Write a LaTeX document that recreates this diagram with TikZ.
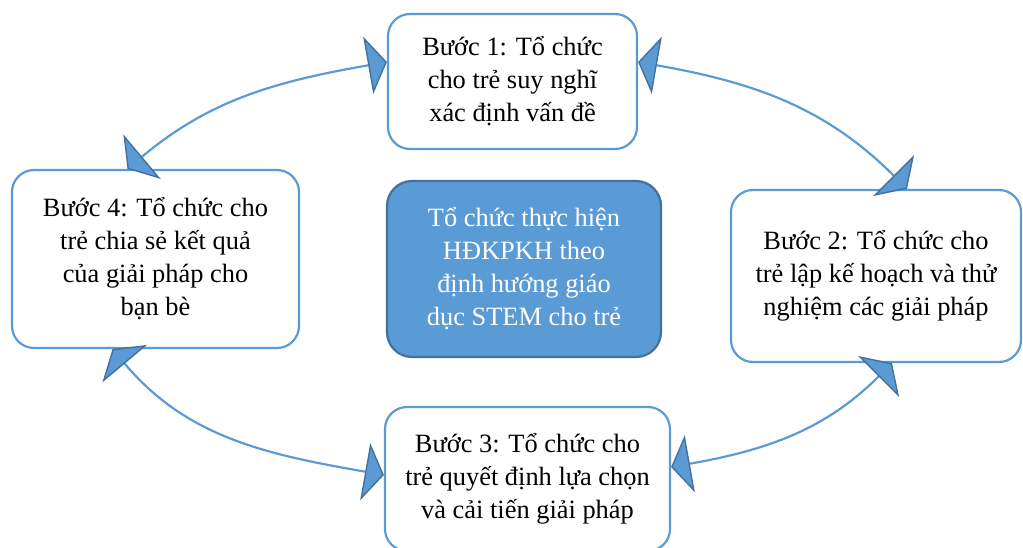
\documentclass[tikz,border=0pt]{standalone}
\usepackage{fontspec}
\setmainfont{Liberation Serif}
\usetikzlibrary{arrows.meta,positioning}
\definecolor{stemBlue}{RGB}{91, 155, 213}
\definecolor{stemDarkBlue}{RGB}{65, 113, 156}

\begin{document}
\begin{tikzpicture}[
  x=1pt, y=1pt,
  stepbox/.style={
    draw=stemBlue,
    line width=2.2pt,
    fill=white,
    rounded corners=22pt,
    align=center,
    font=\fontsize{26.4}{33}\selectfont
  },
  corebox/.style={
    stepbox,
    draw=stemDarkBlue,
    fill=stemBlue,
    text=white,
    rounded corners=25pt,
    minimum width=274pt,
    minimum height=176pt
  },
  stemtip/.tip={Triangle[length=19pt,width=58pt,line width=1.4pt,color=stemDarkBlue,fill=stemBlue]},
  arrow/.style={stemtip-stemtip,line width=2.2pt,stemBlue}
]
  \useasboundingbox (0,0) rectangle (1023,547);
  \node[stepbox,minimum width=249pt,minimum height=135pt] (step1) at (512.5,465.5) {Bước 1: Tổ chức\\cho trẻ suy nghĩ\\xác định vấn đề};
  \node[stepbox,minimum width=290pt,minimum height=172pt] (step2) at (876,271) {Bước 2: Tổ chức cho\\trẻ lập kế hoạch và thử\\nghiệm các giải pháp};
  \node[stepbox,minimum width=285pt,minimum height=144pt] (step3) at (527.5,68) {Bước 3: Tổ chức cho\\trẻ quyết định lựa chọn\\và cải tiến giải pháp};
  \node[stepbox,minimum width=287pt,minimum height=178pt] (step4) at (155.5,288) {Bước 4: Tổ chức cho\\trẻ chia sẻ kết quả\\của giải pháp cho\\bạn bè};
  \node[corebox] (core) at (524,278) {Tổ chức thực hiện\\HĐKPKH theo\\định hướng giáo\\dục STEM cho trẻ};
  \draw[arrow] ([yshift=19.5pt]step1.west) to[out=190,in=40] ([xshift=-28pt]step4.north);
  \draw[arrow] ([yshift=19.5pt]step1.east) to[out=-10,in=135] ([xshift=31pt]step2.north);
  \draw[arrow] ([xshift=16pt]step2.south) to[out=225,in=10] ([yshift=12pt]step3.east);
  \draw[arrow] ([xshift=-43pt]step4.south) to[out=-50,in=170] ([yshift=4pt]step3.west);
\end{tikzpicture}
\end{document}
